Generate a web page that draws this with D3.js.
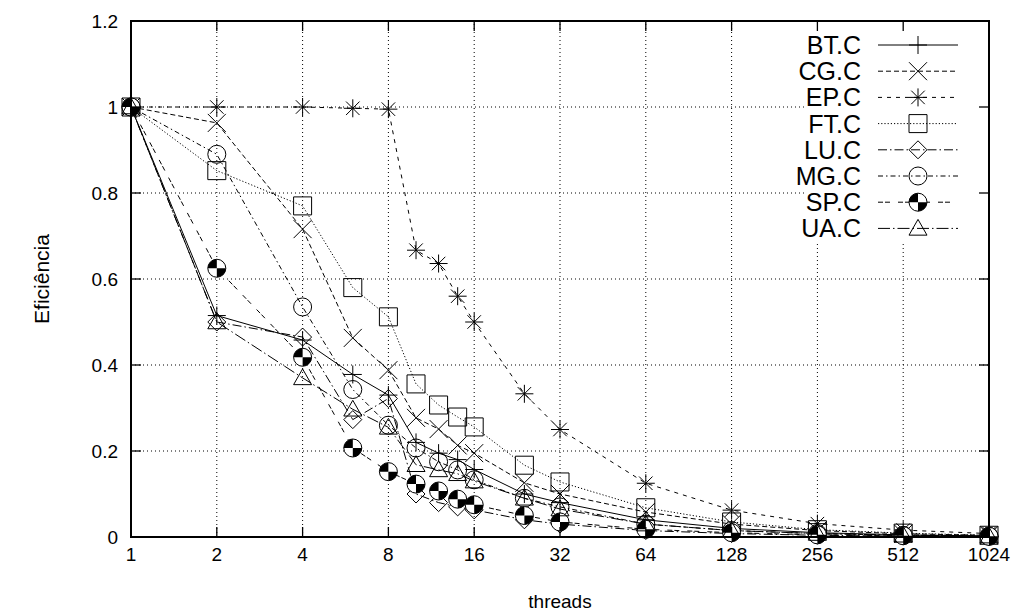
<!DOCTYPE html>
<html>
<head>
<meta charset="utf-8">
<script src="https://cdn.jsdelivr.net/npm/d3@7"></script>
<style>
  html, body { margin: 0; padding: 0; background: #fff; }
  svg { display: block; font-family: "Liberation Sans", Arial, Helvetica, sans-serif; }
</style>
</head>
<body>
<svg id="chart" width="1030" height="616"></svg>
<script>
// Thread counts (x) and efficiency per benchmark (y)
const threads = [1, 2, 4, 6, 8, 10, 12, 14, 16, 24, 32, 64, 128, 256, 512, 1024];
const xTicks = [1, 2, 4, 8, 16, 32, 64, 128, 256, 512, 1024];
const yTicks = [0, 0.2, 0.4, 0.6, 0.8, 1, 1.2];

const names = ["BT.C", "CG.C", "EP.C", "FT.C", "LU.C", "MG.C", "SP.C", "UA.C"];
const btC = [1, 0.515, 0.458, 0.378, 0.33, 0.22, 0.195, 0.18, 0.157, 0.1, 0.08, 0.04, 0.02, 0.01, 0.005, 0.0025];
const cgC = [1, 0.963, 0.716, 0.463, 0.388, 0.277, 0.251, 0.213, 0.195, 0.126, 0.1, 0.058, 0.03, 0.015, 0.0075, 0.004];
const epC = [1, 1, 1, 0.997, 0.995, 0.667, 0.636, 0.56, 0.5, 0.333, 0.25, 0.125, 0.0625, 0.031, 0.016, 0.008];
const ftC = [1, 0.852, 0.77, 0.58, 0.512, 0.356, 0.307, 0.279, 0.256, 0.167, 0.128, 0.068, 0.035, 0.017, 0.009, 0.004];
const luC = [1, 0.5, 0.465, 0.273, 0.322, 0.1, 0.08, 0.07, 0.063, 0.04, 0.03, 0.015, 0.008, 0.004, 0.002, 0.001];
const mgC = [1, 0.89, 0.535, 0.343, 0.26, 0.207, 0.175, 0.156, 0.133, 0.09, 0.07, 0.03, 0.015, 0.008, 0.004, 0.002];
const spC = [1, 0.625, 0.418, 0.207, 0.152, 0.123, 0.107, 0.088, 0.075, 0.05, 0.035, 0.018, 0.01, 0.005, 0.003, 0.0015];
const uaC = [1, 0.5, 0.37, 0.297, 0.255, 0.168, 0.156, 0.147, 0.13, 0.09, 0.065, 0.03, 0.015, 0.008, 0.004, 0.002];

const seriesValues = [btC, cgC, epC, ftC, luC, mgC, spC, uaC];
const dashes = ["none", "5,3", "4,5", "1.2,2", "9,3,1.5,3", "5,3,1.5,3", "5,2,5,8", "12,3,1.5,3"];
const markers = ["plus", "cross", "star", "square", "diamond", "circle", "quad", "triangle"];

const svg = d3.select("#chart");
const margin = { left: 131, right: 989, top: 21, bottom: 537 };

const x = d3.scaleLog().base(2).domain([1, 1024]).range([margin.left, margin.right]);
const y = d3.scaleLinear().domain([0, 1.2]).range([margin.bottom, margin.top]);

// Grid
const grid = svg.append("g").attr("stroke", "#000").attr("stroke-width", 1)
  .attr("stroke-dasharray", "1,3").attr("fill", "none");
xTicks.slice(1, -1).forEach(t => {
  grid.append("line").attr("x1", x(t)).attr("x2", x(t)).attr("y1", y(0)).attr("y2", y(1.2));
});
yTicks.slice(1, -1).forEach(t => {
  grid.append("line").attr("x1", x(1)).attr("x2", x(1024)).attr("y1", y(t)).attr("y2", y(t));
});

// Marker shapes, drawn centred on (0,0)
function markerPath(type) {
  const s = 9;
  switch (type) {
    case "plus": return `M${-s},0H${s}M0,${-s}V${s}`;
    case "cross": return `M${-s},${-s}L${s},${s}M${-s},${s}L${s},${-s}`;
    case "star": return `M${-s},0H${s}M0,${-s}V${s}M${-s*0.75},${-s*0.75}L${s*0.75},${s*0.75}M${-s*0.75},${s*0.75}L${s*0.75},${-s*0.75}`;
    case "square": return `M${-s},${-s}H${s}V${s}H${-s}Z`;
    case "diamond": return `M0,${-s}L${s},0L0,${s}L${-s},0Z`;
    case "triangle": return `M0,${-s}L${s},${s*0.75}H${-s}Z`;
    default: return null;
  }
}

function drawMarker(g, type, cx, cy) {
  const m = g.append("g").attr("transform", `translate(${cx},${cy})`);
  if (type === "circle") {
    m.append("circle").attr("r", 9).attr("fill", "none").attr("stroke", "#000").attr("stroke-width", 1);
  } else if (type === "quad") {
    const r = 9;
    m.append("circle").attr("r", r).attr("fill", "#fff").attr("stroke", "#000").attr("stroke-width", 1);
    const arc = d3.arc().innerRadius(0).outerRadius(r);
    m.append("path").attr("d", arc({ startAngle: -Math.PI / 2, endAngle: 0 })).attr("fill", "#000");
    m.append("path").attr("d", arc({ startAngle: Math.PI / 2, endAngle: Math.PI })).attr("fill", "#000");
  } else {
    m.append("path").attr("d", markerPath(type)).attr("fill", "none")
      .attr("stroke", "#000").attr("stroke-width", 1);
  }
}

// Series lines and points
const line = d3.line().x(d => x(d[0])).y(d => y(d[1]));
const plot = svg.append("g");
seriesValues.forEach((vals, i) => {
  const pts = threads.map((t, k) => [t, vals[k]]);
  plot.append("path").datum(pts).attr("d", line).attr("fill", "none")
    .attr("stroke", "#000").attr("stroke-width", 1)
    .attr("stroke-dasharray", dashes[i]);
});
seriesValues.forEach((vals, i) => {
  threads.forEach((t, k) => drawMarker(plot, markers[i], x(t), y(vals[k])));
});

// Legend (opaque box in the upper right)
const legend = svg.append("g");
legend.append("rect").attr("x", 805).attr("y", margin.top + 1).attr("width", margin.right - 806)
  .attr("height", 222).attr("fill", "#fff");
names.forEach((n, i) => {
  const ly = 45 + i * 26.2;
  legend.append("text").attr("x", 861).attr("y", ly).attr("dy", "0.36em")
    .attr("text-anchor", "end").attr("font-size", 25).text(n);
  legend.append("line").attr("x1", 878).attr("x2", 958).attr("y1", ly).attr("y2", ly)
    .attr("stroke", "#000").attr("stroke-width", 1).attr("stroke-dasharray", dashes[i]);
  drawMarker(legend, markers[i], 918, ly);
});

// Frame and tick marks on all four sides
const axes = svg.append("g").attr("stroke", "#000").attr("stroke-width", 1.3);
const tl = 10;
xTicks.forEach(t => {
  axes.append("line").attr("x1", x(t)).attr("x2", x(t)).attr("y1", y(0)).attr("y2", y(0) - tl);
  axes.append("line").attr("x1", x(t)).attr("x2", x(t)).attr("y1", y(1.2)).attr("y2", y(1.2) + tl);
});
yTicks.forEach(t => {
  axes.append("line").attr("x1", x(1)).attr("x2", x(1) + tl).attr("y1", y(t)).attr("y2", y(t));
  axes.append("line").attr("x1", x(1024)).attr("x2", x(1024) - tl).attr("y1", y(t)).attr("y2", y(t));
});
axes.append("rect").attr("x", x(1)).attr("y", y(1.2)).attr("width", x(1024) - x(1))
  .attr("height", y(0) - y(1.2)).attr("fill", "none").attr("stroke-width", 2);

// Tick labels
const fmtY = d3.format("~g");
svg.append("g").selectAll("text").data(yTicks).join("text")
  .attr("x", 118).attr("y", d => y(d)).attr("dy", "0.36em")
  .attr("text-anchor", "end").attr("font-size", 19).text(d => fmtY(d));
svg.append("g").selectAll("text").data(xTicks).join("text")
  .attr("x", d => x(d)).attr("y", 554).attr("dy", "0.36em")
  .attr("text-anchor", "middle").attr("font-size", 19).text(d => d);

// Axis titles
svg.append("text").attr("x", (x(1) + x(1024)) / 2).attr("y", 601).attr("dy", "0.36em")
  .attr("text-anchor", "middle").attr("font-size", 19).text("threads");
svg.append("text").attr("transform", `translate(41,${(y(0) + y(1.2)) / 2}) rotate(-90)`)
  .attr("dy", "0.36em").attr("text-anchor", "middle").attr("font-size", 21).text("Eficiência");
</script>
</body>
</html>
